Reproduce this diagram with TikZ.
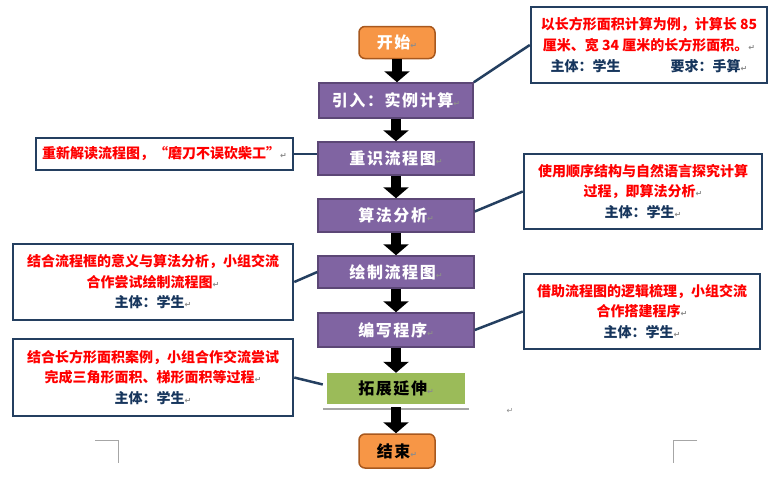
\documentclass[tikz,border=0pt]{standalone}
\usepackage{fontspec}
\setmainfont{Noto Sans CJK SC}
\newfontfamily\cjk{Noto Sans CJK SC}
\newfontfamily\cjksp{Noto Sans CJK SC}[LetterSpace=10]
\newfontfamily\djv{DejaVu Sans}
\usetikzlibrary{arrows.meta}
\definecolor{purp}{HTML}{8064A2}
\definecolor{purpb}{HTML}{5C4776}
\definecolor{orng}{HTML}{F79646}
\definecolor{orngb}{HTML}{A8581E}
\definecolor{grn}{HTML}{9BBB59}
\definecolor{navy}{HTML}{243F60}
\definecolor{txtblue}{HTML}{17365D}
\definecolor{retgray}{HTML}{8C8C8C}
\definecolor{redtxt}{HTML}{FF0000}
\newcommand\retm{{\djv\fontsize{8}{8}\selectfont\color{retgray}↵}}
\begin{document}
\begin{tikzpicture}[x=1pt,y=-1pt,
  flow/.style={draw=purpb, line width=1.5pt, fill=purp, text=white,
    font=\cjksp\bfseries\fontsize{16}{16}\selectfont,
    minimum width=156pt, minimum height=33pt, inner sep=0pt},
  term/.style={draw=orngb, line width=1.5pt, fill=orng, rounded corners=6pt,
    font=\cjksp\bfseries\fontsize{16}{16}\selectfont,
    minimum width=76pt, minimum height=32pt, inner sep=0pt},
  note/.style={draw=navy, line width=2.5pt, fill=white, inner sep=0pt, align=center,
    font=\cjk\bfseries\fontsize{14}{20.5}\selectfont, text=redtxt},
  link/.style={draw=navy, line width=2.5pt},
  blk/.style={draw=black, line width=10pt, -{Triangle[width=25pt,length=11pt]}},
  cornermark/.style={draw=black!35, line width=1pt}
]
\useasboundingbox (0,0) rectangle (783,480);
\fill[white] (0,0) rectangle (783,480);

% main flow
\node[term, text=white] (start) at (397,42.5) {开始\retm};
\node[flow, minimum width=154pt, minimum height=35pt] (n1) at (396,100.5) {引入：实例计算\retm};
\node[flow] (n2) at (396,158.5) {重识流程图\retm};
\node[flow] (n3) at (396,215.5) {算法分析\retm};
\node[flow, minimum height=32pt] (n4) at (396,272) {绘制流程图\retm};
\node[flow, minimum height=34pt] (n5) at (396,330) {编写程序\retm};
\node[fill=grn, minimum width=138pt, minimum height=31pt, inner sep=0pt,
  font=\cjksp\bfseries\fontsize{16}{16}\selectfont, text=black] (ext) at (396,388.5) {拓展延伸\retm};
\coordinate (gl1) at (323,409);
\coordinate (gl2) at (469,409);
\draw[black!35, line width=2pt] (gl1) -- (gl2);
\coordinate (ga) at (396,407);
\node[term, text=black, minimum height=34pt] (end) at (397,451) {结束\retm};

\draw[blk] (start.south) -- (start.south |- n1.north);
\draw[blk] (n1.south) -- (n2.north);
\draw[blk] (n2.south) -- (n3.north);
\draw[blk] (n3.south) -- (n4.north);
\draw[blk] (n4.south) -- (n5.north);
\draw[blk] (n5.south) -- (ext.north);
\draw[blk] (ga) -- (ga |- end.north);

\node[font=\djv\fontsize{8}{8}\selectfont, text=retgray] (r0) at (510,411) {↵};

% notes
\node[note, minimum width=236pt, minimum height=76pt, font=\cjk\bfseries\fontsize{14}{21}\selectfont] (b1) at (649,45)
  {以长方形面积计算为例，计算长 85\\
   厘米、宽 34 厘米的长方形面积。\retm\\
   {\color{txtblue}主体：学生\hspace{50pt}要求：手算}\retm};
\node[note, minimum width=257pt, minimum height=32pt] (b2) at (164.5,154)
  {重新解读流程图，“磨刀不误砍柴工”\retm};
\node[note, minimum width=238pt, minimum height=75pt] (b3) at (643,191.5)
  {使用顺序结构与自然语言探究计算\\
   过程，即算法分析\retm\\
   {\color{txtblue}主体：学生}\retm};
\node[note, minimum width=280pt, minimum height=76pt] (b4) at (153,282)
  {结合流程框的意义与算法分析，小组交流\\
   合作尝试绘制流程图\retm\\
   {\color{txtblue}主体：学生}\retm};
\node[note, minimum width=236pt, minimum height=75pt] (b5) at (642,311.5)
  {借助流程图的逻辑梳理，小组交流\\
   合作搭建程序\retm\\
   {\color{txtblue}主体：学生}\retm};
\node[note, minimum width=280pt, minimum height=77pt] (b6) at (153,377.5)
  {结合长方形面积案例，小组合作交流尝试\\
   完成三角形面积、梯形面积等过程\retm\\
   {\color{txtblue}主体：学生}\retm};

% connectors
\draw[link] (b1.west) -- (n1.north east);
\draw[link] (b2.east) -- (b2.east -| n2.west);
\draw[link] (b3.west) -- ([yshift=4pt]n3.east);
\draw[link] (b4.east) -- (n4.west);
\draw[link] (b5.west) -- (n5.east);
\draw[link] (b6.east) -- ([xshift=-4pt,yshift=4pt]ext.west);

% corner marks
\coordinate (m1a) at (95,440);
\coordinate (m1b) at (118,440);
\coordinate (m1c) at (118,463);
\draw[cornermark] (m1a) -- (m1b) -- (m1c);
\coordinate (m2a) at (697,440);
\coordinate (m2b) at (673,440);
\coordinate (m2c) at (673,463);
\draw[cornermark] (m2a) -- (m2b) -- (m2c);
\end{tikzpicture}
\end{document}
